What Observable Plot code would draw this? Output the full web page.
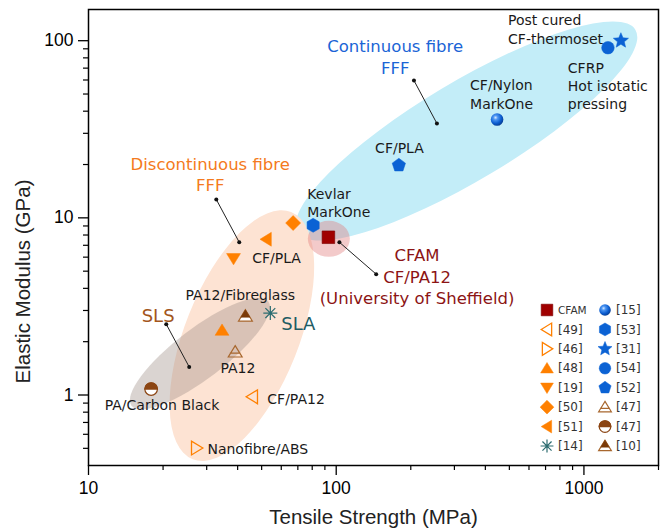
<!DOCTYPE html>
<html><head><meta charset="utf-8">
<script src="https://cdn.jsdelivr.net/npm/d3@7"></script>
<script src="https://cdn.jsdelivr.net/npm/@observablehq/plot@0.6"></script>
<style>body{margin:0;background:#fff}</style>
</head><body><div id="chart"></div>
<script>
// ---------- data ----------
const pointKeys   = ["cfam","53","50","51","19","52","15","54","31","10","14","48","47t","47c","49","46"];
const tensileMPa  = [93, 80.7, 67, 52.2, 38.5, 179, 446, 1250, 1410, 43, 54.2, 34.6, 39.1, 17.9, 45.9, 27.3];
const modulusGPa  = [7.77, 9.08, 9.35, 7.57, 5.89, 19.8, 35.9, 91.3, 100, 2.79, 2.90, 2.32, 1.75, 1.08, 0.977, 0.502];

const ellipseNames = ["continuous","discontinuous","sls","cfam"];
const ellipseX     = [337, 41.8, 28.3, 93.8];
const ellipseY     = [30.7, 2.15, 1.70, 7.57];

const leaderX1 = [206, 32.8, 103, 20.6];
const leaderY1 = [59.6, 12.7, 7.28, 2.51];
const leaderX2 = [255, 40.6, 145, 25.5];
const leaderY2 = [34.1, 7.28, 4.81, 1.44];

const groupTexts = ["Continuous fibre\nFFF","Discontinuous fibre\nFFF","CFAM\nCF/PA12\n(University of Sheffield)","SLS","SLA"];
const groupX     = [173, 31.0, 212, 19.1, 70.3];
const groupY     = [81.8, 17.8, 4.71, 2.83, 2.55];
const groupKeys  = ["blue","orange","red","brown","teal"];

const labelTexts = ["Post cured\nCF-thermoset","CFRP\nHot isotatic\npressing","CF/Nylon\nMarkOne","CF/PLA","Kevlar\nMarkOne","CF/PLA","PA12/Fibreglass","PA12","PA/Carbon Black","CF/PA12","Nanofibre/ABS"];
const labelX     = [494, 861, 347, 180, 76.4, 45.8, 41.0, 40.1, 19.8, 52.7, 30.2];
const labelY     = [116.8, 56.1, 50.2, 24.9, 12.2, 5.98, 3.71, 1.44, 0.889, 0.962, 0.502];
const labelAnchor= ["start","start","start","middle","start","start","middle","middle","middle","start","start"];

const legendKeys1 = ["cfam","49","46","48","19","50","51","14"];
const legendText1 = ["CFAM","[49]","[46]","[48]","[19]","[50]","[51]","[14]"];
const legendKeys2 = ["15","53","31","54","52","47t","47c","10"];
const legendText2 = ["[15]","[53]","[31]","[54]","[52]","[47]","[47]","[10]"];

const xTicks = [10, 100, 1000];
const xMinor = [20,30,40,50,60,70,80,90,200,300,400,500,600,700,800,900,2000];
const yTicks = [1, 10, 100];
const yMinor = [0.5,0.6,0.7,0.8,0.9,2,3,4,5,6,7,8,9,20,30,40,50,60,70,80,90];

// ---------- tables ----------
const points = pointKeys.map((k,i)=>({key:k, x:tensileMPa[i], y:modulusGPa[i]}));
const ellipses = ellipseNames.map((n,i)=>({name:n, x:ellipseX[i], y:ellipseY[i]}));
const leaders = leaderX1.map((_,i)=>({x1:leaderX1[i], y1:leaderY1[i], x2:leaderX2[i], y2:leaderY2[i]}));
const groups = groupTexts.map((t,i)=>({text:t, x:groupX[i], y:groupY[i], key:groupKeys[i]}));
const labels = labelTexts.map((t,i)=>({text:t, x:labelX[i], y:labelY[i], anchor:labelAnchor[i]}));

// ---------- symbols ----------
const sym = f => ({draw(c, size){ f(c, Math.sqrt(size/Math.PI)); }});
const polyPts = pts => (c, r) => { pts.forEach(([x,y],i)=> i ? c.lineTo(x*r,y*r) : c.moveTo(x*r,y*r)); c.closePath(); };
const regular = (n, k=1, rot=-90) => Array.from({length:n},(_,i)=>{const a=(rot+360*i/n)*Math.PI/180; return [k*Math.cos(a), k*Math.sin(a)];});
const starPts = Array.from({length:10},(_,i)=>{const a=(-90+36*i)*Math.PI/180, k=i%2?0.45:1; return [k*Math.cos(a), k*Math.sin(a)];});
const TRI = [[0,-1],[1.1,0.8],[-1.1,0.8]];
const SYM = {
  square: sym(polyPts([[-1,-1],[1,-1],[1,1],[-1,1]])),
  triUp: sym(polyPts(TRI)),
  triDown: sym(polyPts([[0,1],[1.1,-0.8],[-1.1,-0.8]])),
  triLeft: sym(polyPts([[-1,0],[0.8,-1.1],[0.8,1.1]])),
  triRight: sym(polyPts([[1,0],[-0.8,-1.1],[-0.8,1.1]])),
  diamond: sym(polyPts([[0,-1],[1,0],[0,1],[-1,0]])),
  hexagon: sym(polyPts(regular(6))),
  pentagon: sym(polyPts(regular(5))),
  star: sym(polyPts(starPts)),
  circle: sym((c,r)=>{c.moveTo(r,0); c.arc(0,0,r,0,2*Math.PI);}),
  halfTop: sym((c,r)=>{c.moveTo(-r,0); c.arc(0,0,r,Math.PI,2*Math.PI); c.closePath();}),
  asterisk: sym((c,r)=>{ for (const a of [0,45,90,135]) {const t=a*Math.PI/180; c.moveTo(-r*Math.cos(t),-r*Math.sin(t)); c.lineTo(r*Math.cos(t), r*Math.sin(t));} }),
  triBar: sym((c,r)=>{ polyPts(TRI)(c,r); c.moveTo(-0.85*r,0.2*r); c.lineTo(0.85*r,0.2*r); }),
  triTop: sym(polyPts([[0,-1],[0.73,0.2],[-0.73,0.2]]))
};

const OR="#ff8000", BL="#0b62d4", DR="#a00000", BR="#8b4513", BRL="#a8672e", TE="#2c6c70";
const markerStyles = {
  cfam: [{s:"square", fill:DR, stroke:"#7a0000", sw:0.6, r:6.3}],
  "49": [{s:"triLeft", fill:"none", stroke:OR, sw:1.3, r:6.3}],
  "46": [{s:"triRight", fill:"none", stroke:OR, sw:1.3, r:6.3}],
  "48": [{s:"triUp", fill:OR, stroke:OR, sw:0.5, r:6.3}],
  "19": [{s:"triDown", fill:OR, stroke:OR, sw:0.5, r:6.3}],
  "50": [{s:"diamond", fill:OR, stroke:OR, sw:0.5, r:7.5}],
  "51": [{s:"triLeft", fill:OR, stroke:OR, sw:0.5, r:6.3}],
  "14": [{s:"asterisk", fill:"none", stroke:TE, sw:1.2, r:7}],
  "15": [{s:"circle", fill:"url(#sphereGrad)", stroke:"none", sw:0, r:6.3}],
  "53": [{s:"hexagon", fill:BL, stroke:BL, sw:0.5, r:7}],
  "31": [{s:"star", fill:BL, stroke:BL, sw:0.5, r:8}],
  "54": [{s:"circle", fill:BL, stroke:BL, sw:0.5, r:6.3}],
  "52": [{s:"pentagon", fill:BL, stroke:BL, sw:0.5, r:7}],
  "47t": [{s:"triBar", fill:"none", stroke:BRL, sw:1.2, r:6.3}],
  "47c": [{s:"circle", fill:"white", stroke:BR, sw:1.2, r:6.3},{s:"halfTop", fill:BR, stroke:BR, sw:1.2, r:6.3}],
  "10": [{s:"triUp", fill:"white", stroke:BRL, sw:1.2, r:6.3},{s:"triTop", fill:"#7a3a08", stroke:"#7a3a08", sw:0.5, r:6.3}]
};
const ellipseShape = {
  continuous:   {rx:197, ry:49, angle:-30.9, fill:"#c3edf8", op:1},
  discontinuous:{rx:133, ry:57, angle:-68.3, fill:"#fde3d3", op:1},
  sls:          {rx:86,  ry:25, angle:-37.3, fill:"#9e8f86", op:0.38},
  cfam:         {rx:21,  ry:18, angle:0,     fill:"#e07a7a", op:0.4}
};
const groupStyle = {blue:{c:"#1a64d6", fs:16.5}, orange:{c:"#f47a20", fs:16.5}, red:{c:"#8c1414", fs:16.5}, brown:{c:"#a3561c", fs:18}, teal:{c:"#1f5c63", fs:18}};

// ---------- marks ----------
const defsMark = () => {
  const g = d3.create("svg:g");
  const grad = g.append("defs").append("radialGradient").attr("id","sphereGrad").attr("cx","0.38").attr("cy","0.35").attr("r","0.7");
  [[0,"#d6e8ff"],[0.25,"#4b95f2"],[0.65,"#0b5ccf"],[1,"#063a8c"]].forEach(([o,c])=>grad.append("stop").attr("offset",o).attr("stop-color",c));
  return g.node();
};

const ellipseMark = Plot.dot(ellipses, {x:"x", y:"y", render(index, scales, values) {
  const g = d3.create("svg:g");
  for (const i of index) {
    const s = ellipseShape[ellipses[i].name], cx = values.x[i], cy = values.y[i];
    g.append("ellipse").attr("cx",cx).attr("cy",cy).attr("rx",s.rx).attr("ry",s.ry)
      .attr("transform",`rotate(${s.angle} ${cx} ${cy})`).attr("fill",s.fill).attr("fill-opacity",s.op);
  }
  return g.node();
}});

const markerMarks = [];
points.forEach(p => markerStyles[p.key].forEach(l => {
  markerMarks.push(Plot.dot([p], {x:"x", y:"y", symbol:SYM[l.s], r:l.r, fill:l.fill, stroke:l.stroke, strokeWidth:l.sw}));
}));

const legendMark = (index, scales, values, dims) => {
  const g = d3.create("svg:g").attr("text-anchor","start");
  const right = dims.width - dims.marginRight, bottom = dims.height - dims.marginBottom;
  const item = (key, text, x, y) => {
    markerStyles[key].forEach(l => {
      const p = d3.path(); const rr = l.r*0.92; SYM[l.s].draw(p, Math.PI*rr*rr);
      g.append("path").attr("d", p.toString()).attr("transform",`translate(${x},${y})`)
        .attr("fill", l.fill).attr("stroke", l.stroke).attr("stroke-width", l.sw);
    });
    g.append("text").attr("x", x+11).attr("y", y).attr("dy","0.35em").attr("text-anchor","start")
      .attr("font-family","DejaVu Sans").attr("font-size", text==="CFAM"?10.5:12).attr("fill","#333").text(text);
  };
  legendKeys1.forEach((k,i)=>item(k, legendText1[i], right-111, bottom-155+i*19.43));
  legendKeys2.forEach((k,i)=>item(k, legendText2[i], right-53, bottom-155+i*19.43));
  return g.node();
};

const chart = Plot.plot({
  width: 664, height: 530,
  marginLeft: 88, marginRight: 6, marginTop: 9, marginBottom: 65,
  style: {fontFamily: "Liberation Sans, Arial, sans-serif", background: "white", color: "black"},
  x: {type: "log", domain: [10, 2000], label: null},
  y: {type: "log", domain: [0.4, 150], label: null},
  marks: [
    defsMark,
    ellipseMark,
    Plot.link(leaders, {x1:"x1", y1:"y1", x2:"x2", y2:"y2", stroke:"#222", strokeWidth:1}),
    Plot.dot(leaders, {x:"x1", y:"y1", r:2, fill:"#111"}),
    Plot.dot(leaders, {x:"x2", y:"y2", r:2, fill:"#111"}),
    ...markerMarks,
    ...Object.keys(groupStyle).map(k => Plot.text(groups.filter(d=>d.key===k), {x:"x", y:"y", text:"text", fill:groupStyle[k].c, fontSize:groupStyle[k].fs, fontFamily:"DejaVu Sans", lineHeight:1.3, lineAnchor:"middle", textAnchor:"middle"})),
    Plot.text(labels.filter(d=>d.anchor==="start"), {x:"x", y:"y", text:"text", textAnchor:"start", lineAnchor:"middle", fontSize:14, lineHeight:1.3, fontFamily:"DejaVu Sans", fill:"#1a1a1a"}),
    Plot.text(labels.filter(d=>d.anchor==="middle"), {x:"x", y:"y", text:"text", textAnchor:"middle", lineAnchor:"middle", fontSize:14, lineHeight:1.3, fontFamily:"DejaVu Sans", fill:"#1a1a1a"}),
    legendMark,
    Plot.frame({stroke:"black", strokeWidth:1.5}),
    Plot.axisX({ticks:xTicks, tickSize:10, tickPadding:6, tickFormat:d=>String(d), fontSize:17.5, strokeWidth:1.3, label:null}),
    Plot.axisX({ticks:xMinor, tickSize:5, tickFormat:()=>"", strokeWidth:1.2, label:null}),
    Plot.axisY({ticks:yTicks, tickSize:10, tickPadding:5, tickFormat:d=>String(d), fontSize:17.5, strokeWidth:1.3, label:null}),
    Plot.axisY({ticks:yMinor, tickSize:5, tickFormat:()=>"", strokeWidth:1.2, label:null}),
    Plot.text(["Tensile Strength (MPa)"], {text:d=>d, frameAnchor:"bottom", dy:52, textAnchor:"middle", lineAnchor:"middle", fontSize:20.5, fill:"#222"}),
    Plot.text(["Elastic Modulus (GPa)"], {text:d=>d, frameAnchor:"left", dx:-65, dy:44, rotate:-90, textAnchor:"middle", lineAnchor:"middle", fontSize:20.5, fill:"#222"})
  ]
});
document.getElementById("chart").appendChild(chart);
</script></body></html>
